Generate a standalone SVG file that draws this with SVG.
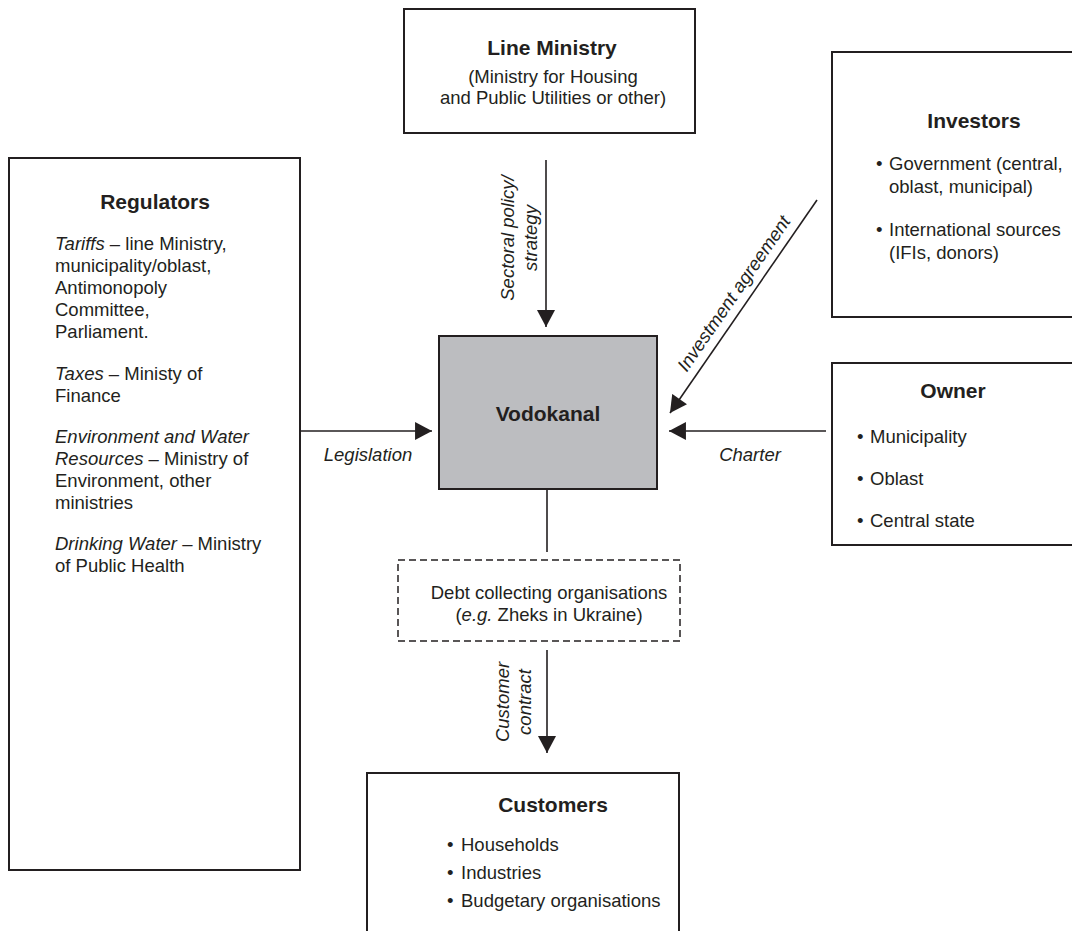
<svg xmlns="http://www.w3.org/2000/svg" width="1072" height="931" viewBox="0 0 1072 931">
  <style>
    .box { fill: #ffffff; stroke: #231f20; stroke-width: 2; }
    .core { fill: #bcbdc0; stroke: #231f20; stroke-width: 2; }
    .dash { fill: #ffffff; stroke: #231f20; stroke-width: 1.5; stroke-dasharray: 7 4; }
    .wire { fill: none; stroke: #231f20; stroke-width: 1.6; }
    text { font-family: "Liberation Sans", Arial, sans-serif; fill: #231f20; font-size: 18.5px; }
    .title { font-weight: bold; font-size: 21px; text-anchor: middle; }
    .mid { text-anchor: middle; }
    .it { font-style: italic; }
  </style>
  <defs>
    <marker id="head" markerUnits="userSpaceOnUse" markerWidth="18" markerHeight="18" viewBox="0 0 16 17" refX="16" refY="8.5" orient="auto">
      <path d="M0,0 L16,8.5 L0,17 Z" fill="#231f20"/>
    </marker>
  </defs>

  <!-- connectors -->
  <g id="connectors">
    <line class="wire" x1="546" y1="160" x2="546" y2="327" marker-end="url(#head)"/>
    <line class="wire" x1="817" y1="200" x2="670" y2="413" marker-end="url(#head)"/>
    <line class="wire" x1="826" y1="431" x2="669" y2="431" marker-end="url(#head)"/>
    <line class="wire" x1="300" y1="431" x2="432" y2="431" marker-end="url(#head)"/>
    <line class="wire" x1="547" y1="489" x2="547" y2="552"/>
    <line class="wire" x1="547" y1="650" x2="547" y2="753" marker-end="url(#head)"/>

    <text class="it mid" transform="translate(514,238) rotate(-90)">Sectoral policy/</text>
    <text class="it mid" transform="translate(537,238) rotate(-90)">strategy</text>
    <text class="it mid" transform="translate(739,297) rotate(-55.4)">Investment agreement</text>
    <text class="it mid" x="368" y="461">Legislation</text>
    <text class="it mid" x="750" y="461">Charter</text>
    <text class="it mid" transform="translate(509,702) rotate(-90)">Customer</text>
    <text class="it mid" transform="translate(531,702) rotate(-90)">contract</text>
  </g>

  <!-- line ministry -->
  <g id="line-ministry">
    <rect class="box" x="404" y="9" width="291" height="124"/>
    <text class="title" x="552" y="55">Line Ministry</text>
    <text class="mid" x="553" y="83">(Ministry for Housing</text>
    <text class="mid" x="553" y="104">and Public Utilities or other)</text>
  </g>

  <!-- investors -->
  <g id="investors">
    <rect class="box" x="832" y="52" width="250" height="265"/>
    <text class="title" x="974" y="128">Investors</text>
    <text x="876" y="170">•</text>
    <text x="889" y="170">Government (central,</text>
    <text x="889" y="193">oblast, municipal)</text>
    <text x="876" y="236">•</text>
    <text x="889" y="236">International sources</text>
    <text x="889" y="259">(IFIs, donors)</text>
  </g>

  <!-- regulators -->
  <g id="regulators">
    <rect class="box" x="9" y="158" width="291" height="712"/>
    <text class="title" x="155" y="209">Regulators</text>
    <text x="55" y="250"><tspan class="it">Tariffs</tspan> – line Ministry,</text>
    <text x="55" y="272">municipality/oblast,</text>
    <text x="55" y="294">Antimonopoly</text>
    <text x="55" y="316">Committee,</text>
    <text x="55" y="338">Parliament.</text>
    <text x="55" y="380"><tspan class="it">Taxes</tspan> – Ministy of</text>
    <text x="55" y="402">Finance</text>
    <text x="55" y="443" class="it">Environment and Water</text>
    <text x="55" y="465"><tspan class="it">Resources</tspan> – Ministry of</text>
    <text x="55" y="487">Environment, other</text>
    <text x="55" y="509">ministries</text>
    <text x="55" y="550"><tspan class="it">Drinking Water</tspan> – Ministry</text>
    <text x="55" y="572">of Public Health</text>
  </g>

  <!-- vodokanal -->
  <g id="vodokanal">
    <rect class="core" x="439" y="336" width="218" height="153"/>
    <text class="title" x="548" y="421">Vodokanal</text>
  </g>

  <!-- owner -->
  <g id="owner">
    <rect class="box" x="832" y="363" width="250" height="182"/>
    <text class="title" x="953" y="398">Owner</text>
    <text x="857" y="443">•</text>
    <text x="870" y="443">Municipality</text>
    <text x="857" y="485">•</text>
    <text x="870" y="485">Oblast</text>
    <text x="857" y="527">•</text>
    <text x="870" y="527">Central state</text>
  </g>

  <!-- debt collectors -->
  <g id="debt-collectors">
    <rect class="dash" x="398" y="560" width="282" height="81"/>
    <text class="mid" x="549" y="599">Debt collecting organisations</text>
    <text class="mid" x="549" y="621">(<tspan class="it">e.g.</tspan> Zheks in Ukraine)</text>
  </g>

  <!-- customers -->
  <g id="customers">
    <rect class="box" x="367" y="773" width="312" height="170"/>
    <text class="title" x="553" y="812">Customers</text>
    <text x="447" y="851">•</text>
    <text x="461" y="851">Households</text>
    <text x="447" y="879">•</text>
    <text x="461" y="879">Industries</text>
    <text x="447" y="907">•</text>
    <text x="461" y="907">Budgetary organisations</text>
  </g>
</svg>
